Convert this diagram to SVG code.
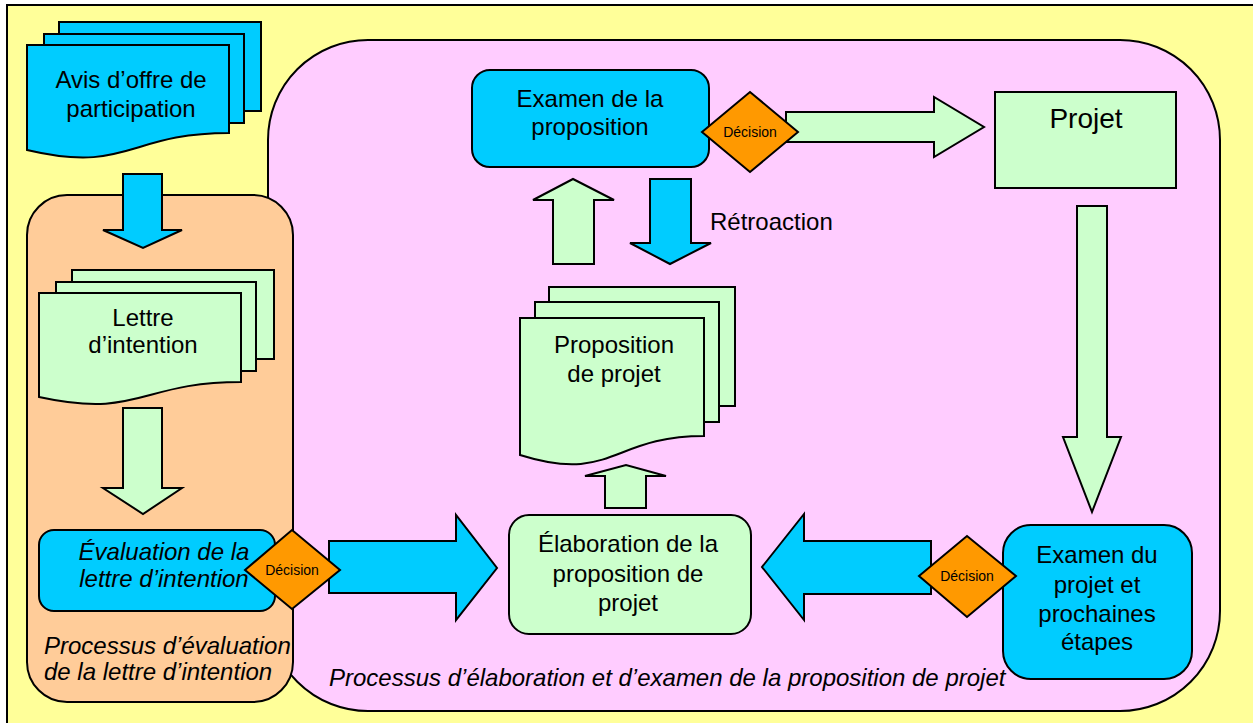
<svg xmlns="http://www.w3.org/2000/svg" width="1253" height="723" viewBox="0 0 1253 723">
<style>
.s{stroke:#000;stroke-width:2;stroke-linejoin:miter}
.cy{fill:#00CCFF}
.gr{fill:#CCFFCC}
.dm{fill:#FF9900;stroke:#000;stroke-width:2}
.t{font-family:"Liberation Sans",Arial,sans-serif;font-size:24px;fill:#000;text-anchor:middle}
.ti{font-family:"Liberation Sans",Arial,sans-serif;font-size:24px;font-style:italic;fill:#000}
.dt{font-family:"Liberation Sans",Arial,sans-serif;font-size:14px;fill:#000;text-anchor:middle}
</style>
<rect x="0" y="0" width="1253" height="723" fill="#FFFFFF"/>
<rect id="frame" x="7" y="5" width="1260" height="730" fill="#FFFF99" stroke="#000" stroke-width="2"/>
<g id="panel-elaboration">
<rect x="268" y="40" width="952" height="671" rx="100" ry="100" fill="#FFCCFF" class="s"/>
</g>
<g id="panel-evaluation">
<rect x="27" y="195" width="266" height="507" rx="40" ry="40" fill="#FFCC99" class="s"/>
<text class="ti" x="44" y="654">Processus d’évaluation</text>
<text class="ti" x="44" y="680">de la lettre d’intention</text>
</g>
<text id="label-elaboration" class="ti" x="329" y="686">Processus d’élaboration et d’examen de la proposition de projet</text>

<g id="connectors">
<polygon class="s cy" points="123,174 162,174 162,230 182,230 143,248 103,230 123,230"/>
<polygon class="s gr" points="123,408 162,408 162,488 182,488 143,514 103,488 123,488"/>
<polygon class="s cy" points="329,541 456,541 456,515 497,568 456,620 456,593 329,593"/>
<polygon class="s gr" points="605,508 605,476 585,476 626,465 666,476 646,476 646,508"/>
<polygon class="s gr" points="553,264 553,200 533,200 573,179 614,200 594,200 594,264"/>
<polygon class="s cy" points="650,179 691,179 691,243 711,243 670,264 630,243 650,243"/>
<polygon class="s gr" points="786,112 934,112 934,97 984,127 934,157 934,142 786,142"/>
<polygon class="s gr" points="1077,206 1107,206 1107,437 1121,437 1092,512 1063,437 1077,437"/>
<polygon class="s cy" points="931,541 804,541 804,514 762,567 804,620 804,594 931,594"/>
<text x="710" y="230" font-family="Liberation Sans, Arial, sans-serif" font-size="24">Rétroaction</text>
</g>

<g id="avis">
<rect class="s cy" x="59" y="22" width="202" height="89"/>
<rect class="s cy" x="44" y="34" width="200" height="89"/>
<path class="s cy" d="M27,45 H229 V133 C128,133 128,174 27,150 Z"/>
<text class="t" x="131" y="88">Avis d’offre de</text>
<text class="t" x="131" y="117">participation</text>
</g>

<g id="lettre">
<rect class="s gr" x="72" y="270" width="202" height="89"/>
<rect class="s gr" x="56" y="282" width="200" height="89"/>
<path class="s gr" d="M39,293 H241 V382 C140,382 140,419 39,397 Z"/>
<text class="t" x="143" y="326">Lettre</text>
<text class="t" x="143" y="353">d’intention</text>
</g>

<g id="evaluation">
<rect class="s cy" x="39" y="530" width="236" height="81" rx="15" ry="15"/>
<text class="ti" x="164" y="560" text-anchor="middle">Évaluation de la</text>
<text class="ti" x="164" y="587" text-anchor="middle">lettre d’intention</text>
</g>

<g id="decision1">
<polygon class="dm" points="245,570 292,530 340,570 292,609"/>
<text class="dt" x="292" y="575">Décision</text>
</g>

<g id="elaboration">
<rect class="s gr" x="509" y="515" width="242" height="119" rx="20" ry="20"/>
<text class="t" x="628" y="552">Élaboration de la</text>
<text class="t" x="628" y="582">proposition de</text>
<text class="t" x="628" y="611">projet</text>
</g>

<g id="proposition">
<rect class="s gr" x="549" y="287" width="186" height="119"/>
<rect class="s gr" x="535" y="302" width="184" height="120"/>
<path class="s gr" d="M520,318 H704 V436 C612,436 612,484 520,455 Z"/>
<text class="t" x="614" y="353">Proposition</text>
<text class="t" x="614" y="382">de projet</text>
</g>

<g id="examen-proposition">
<rect class="s cy" x="472" y="70" width="237" height="97" rx="18" ry="18"/>
<text class="t" x="590" y="107">Examen de la</text>
<text class="t" x="590" y="135">proposition</text>
</g>

<g id="decision2">
<polygon class="dm" points="702,132 750,92 798,132 750,172"/>
<text class="dt" x="750" y="137">Décision</text>
</g>

<g id="projet">
<rect class="s gr" x="995" y="92" width="181" height="96"/>
<text class="t" x="1086" y="128" style="font-size:28px">Projet</text>
</g>

<g id="examen-projet">
<rect class="s cy" x="1003" y="525" width="189" height="154" rx="28" ry="28"/>
<text class="t" x="1097" y="563">Examen du</text>
<text class="t" x="1097" y="593">projet et</text>
<text class="t" x="1097" y="622">prochaines</text>
<text class="t" x="1097" y="650">étapes</text>
</g>

<g id="decision3">
<polygon class="dm" points="919,576 967,536 1016,576 967,617"/>
<text class="dt" x="967" y="581">Décision</text>
</g>
</svg>
